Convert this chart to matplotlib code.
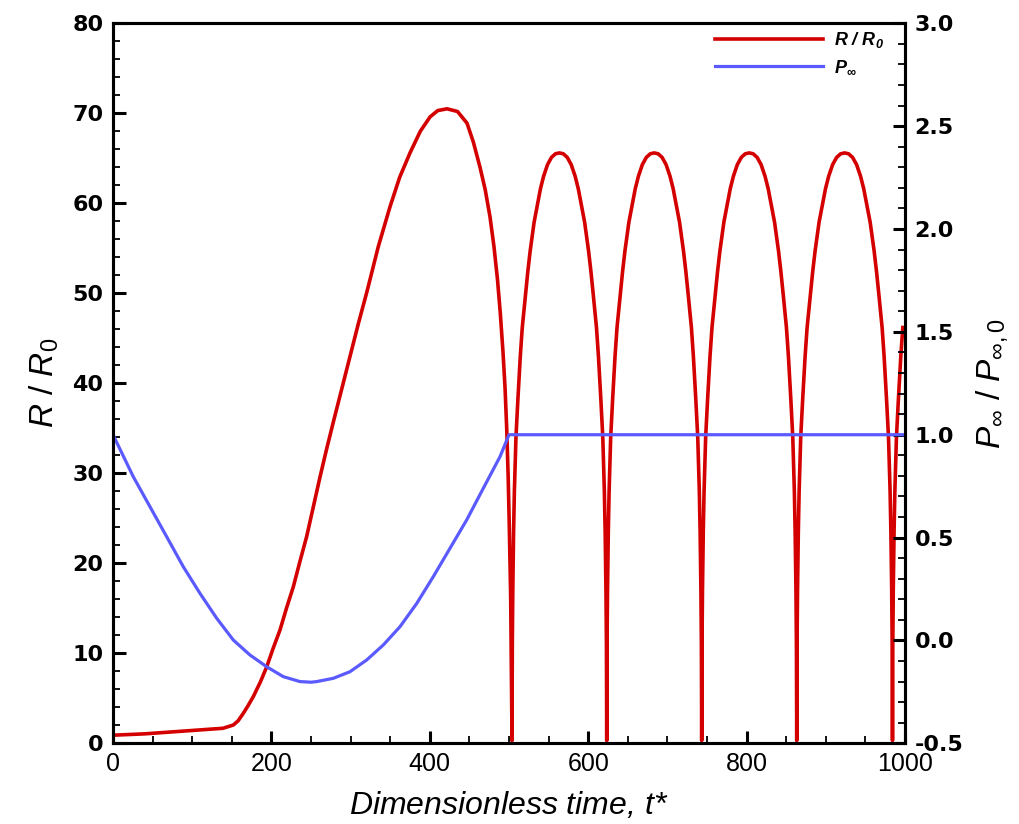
import numpy as np
import matplotlib
matplotlib.use("Agg")
import matplotlib.pyplot as plt
from matplotlib.ticker import MultipleLocator

plt.rcParams['font.family'] = ['Liberation Sans', 'DejaVu Sans']
plt.rcParams['mathtext.fontset'] = 'custom'
plt.rcParams['mathtext.rm'] = 'Liberation Sans'
plt.rcParams['mathtext.it'] = 'Liberation Sans:italic'
plt.rcParams['mathtext.bf'] = 'Liberation Sans:bold'
plt.rcParams['mathtext.bfit'] = 'Liberation Sans:italic:bold'

# R/R0 : slow growth, first big expansion and collapse
t_grow = [0, 40, 80.4, 120, 138.9, 151.9, 158, 164.5, 170, 177.1, 186, 194.1, 202,
          210.9, 219, 227.7, 236, 244.6, 253, 261.4, 270, 278.2, 286.6, 300, 310,
          320.7, 335, 349.7, 362, 375.0, 388, 400.3, 410, 421.7, 435, 447.0, 455,
          463.4, 470, 476.0, 481, 485.5, 489, 492.4, 495, 497.1, 499, 500.4, 502.1]
r_grow = [0.9, 1.05, 1.3, 1.55, 1.67, 2.03, 2.5, 3.33, 4.1, 5.18, 6.8, 8.5, 10.5,
          12.6, 15.0, 17.4, 20.2, 23.0, 26.3, 29.6, 32.8, 35.7, 38.6, 43.2, 46.7,
          50.2, 55.2, 59.6, 62.9, 65.6, 68.0, 69.6, 70.3, 70.5, 70.2, 68.9, 66.8,
          64.0, 61.5, 58.5, 55.2, 51.5, 47.8, 43.5, 39.5, 35.0, 29.5, 24.0, 16.3]

tau_cycle = [0, 0.4, 1, 2, 3, 5, 7.5, 10.5, 13, 17, 20, 23, 28, 33, 36, 40, 45,
             50, 55, 60, 65, 70, 75, 80, 84, 87, 92, 97, 100, 103, 107, 109.5,
             112.5, 115, 117, 118, 119, 119.6]
r_cycle = [0.3, 11, 17, 23.5, 28, 34, 38.3, 43, 46.2, 49.8, 52.4, 54.7, 57.9, 60.2, 61.6,
           63.0, 64.3, 65.1, 65.5, 65.6, 65.5, 65.1, 64.3, 63.0, 61.6, 60.2, 57.9, 54.7,
           52.4, 49.8, 46.2, 43, 38.3, 34, 28, 23.5, 17, 11]

# collapse instants
t_collapse = [503.8, 623.4, 743.3, 863.3, 984.2, 1104.2]

# P_inf / P_inf,0
t_p = [0, 25.6, 46.7, 67.8, 88.8, 109.8, 130.9, 151.9, 173.0, 194.1, 215.0,
       236.1, 250.0, 257.2, 278.2, 299.2, 320.3, 341.3, 362.4, 383.5, 404.4,
       425.5, 446.6, 467.6, 488.6, 500.0, 1000.0]
p_ratio = [1.0, 0.796, 0.65, 0.504, 0.358, 0.229, 0.108, 0.002, -0.071, -0.128, -0.176,
           -0.2, -0.203, -0.2, -0.184, -0.152, -0.095, -0.022, 0.067, 0.18, 0.31,
           0.448, 0.586, 0.74, 0.893, 1.0, 1.0]

t_r = list(t_grow)
r_r = list(r_grow)
for i in range(len(t_collapse) - 1):
    c0, c1 = t_collapse[i], t_collapse[i + 1]
    k = (c1 - c0) / 120.0
    for tau, rv in zip(tau_cycle, r_cycle):
        t_r.append(c0 + tau * k)
        r_r.append(rv)
t_r = np.array(t_r)
r_r = np.array(r_r)
keep = t_r <= 1000
t_r, r_r = t_r[keep], r_r[keep]

fig = plt.figure(figsize=(10.2, 8.24), dpi=100)
ax = fig.add_axes([113 / 1020, 1 - 743.3 / 824, 792 / 1020, 720 / 824])
ax2 = ax.twinx()

red = '#d40000'
blue = '#5a5aff'
l1, = ax.plot(t_r, r_r, color=red, lw=2.6)
l2, = ax2.plot(t_p, p_ratio, color=blue, lw=2.3)

ax.set_xlim(0, 1000)
ax.set_ylim(0, 80)
ax2.set_ylim(-0.5, 3.0)

ax.xaxis.set_major_locator(MultipleLocator(200))
ax.xaxis.set_minor_locator(MultipleLocator(50))
ax.yaxis.set_major_locator(MultipleLocator(10))
ax.yaxis.set_minor_locator(MultipleLocator(2))
ax2.yaxis.set_minor_locator(MultipleLocator(0.1))
ax2.set_yticks(np.arange(-0.5, 3.01, 0.5))
ax2.set_yticklabels([f"{v:.1f}" for v in np.arange(-0.5, 3.01, 0.5)])

for a in (ax, ax2):
    for s in a.spines.values():
        s.set_linewidth(2.2)
    a.tick_params(which='major', direction='in', length=9, width=2.2)
    a.tick_params(which='minor', direction='in', length=5, width=1.3)

ax.tick_params(axis='x', which='both', top=False, labelsize=18, pad=6)
ax.tick_params(axis='y', which='both', right=False, labelsize=16, pad=7)
ax2.tick_params(axis='y', which='both', labelsize=16, pad=7)
for lab in ax.get_yticklabels() + ax2.get_yticklabels():
    lab.set_fontweight('bold')
    lab.set_family('DejaVu Sans')

ax.set_xlabel('Dimensionless time, $t$*', fontsize=23, style='italic', labelpad=10)
ax.set_ylabel(r'$R\ /\ R_0$', fontsize=24, labelpad=8)
ax2.set_ylabel(r'$P_\infty\ /\ P_{\infty,0}$', fontsize=24, labelpad=8)

ax2.legend([l1, l2], [r'$\mathbfit{R\ /\ R_0}$', r'$\mathbfit{P_\infty}$'],
           loc='upper right', bbox_to_anchor=(884 / 1020, 1 - 30 / 824),
           bbox_transform=fig.transFigure, frameon=False, fontsize=13,
           handlelength=6.0, labelspacing=0.45, handletextpad=0.6,
           borderpad=0, borderaxespad=0)

fig.savefig('out.png', dpi=100)
